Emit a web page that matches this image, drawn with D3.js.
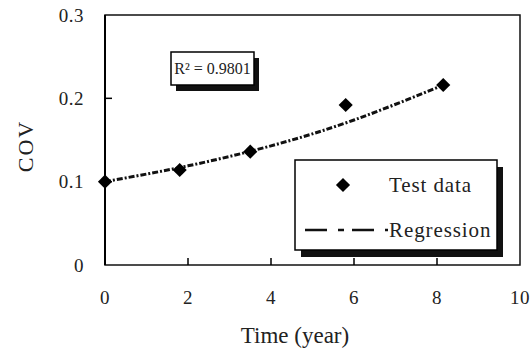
<html>
<head>
<script src="https://cdn.jsdelivr.net/npm/d3@7"></script>
</head>
<body style="margin:0">
<script>
// test data
const testTime = [0, 1.8, 3.5, 5.8, 8.15];
const testCov = [0.1, 0.114, 0.136, 0.192, 0.216];

// regression curve
const regTime = [0, 2, 4, 6, 8.15];
const regCov = [0.1, 0.119, 0.143, 0.174, 0.216];

const xTicks = [0, 2, 4, 6, 8, 10];
const yTicks = [0, 0.1, 0.2, 0.3];
const r2Label = 'R\u00b2 = 0.9801';
const legendLabels = ['Test data', 'Regression'];

const W = 530, H = 363;
const MARGIN = { top: 15, right: 10, bottom: 98, left: 105 };
const FONT = '"Liberation Serif"';

const svg = d3.select('body').append('svg')
  .attr('width', W)
  .attr('height', H);

const x = d3.scaleLinear().domain([0, 10]).range([MARGIN.left, W - MARGIN.right]);
const y = d3.scaleLinear().domain([0, 0.3]).range([H - MARGIN.bottom, MARGIN.top]);

const x0 = x(0), x1 = x(10), y0 = y(0), y1 = y(0.3);

// frame
svg.append('rect')
  .attr('x', x0).attr('y', y1)
  .attr('width', x1 - x0).attr('height', y0 - y1)
  .attr('fill', 'none').attr('stroke', '#111').attr('stroke-width', 1.5);
svg.append('line')
  .attr('x1', x0).attr('x2', x0).attr('y1', y1).attr('y2', y0)
  .attr('stroke', '#000').attr('stroke-width', 2);

// inner ticks
svg.selectAll('.xt').data(xTicks.slice(1, -1)).enter().append('line')
  .attr('x1', d => x(d)).attr('x2', d => x(d))
  .attr('y1', y0).attr('y2', y0 - 7)
  .attr('stroke', '#000').attr('stroke-width', 1.5);
svg.selectAll('.yt').data(yTicks.slice(1, -1)).enter().append('line')
  .attr('x1', x0).attr('x2', x0 + 7)
  .attr('y1', d => y(d)).attr('y2', d => y(d))
  .attr('stroke', '#000').attr('stroke-width', 1.5);

// tick labels
svg.selectAll('.xl').data(xTicks).enter().append('text')
  .attr('x', d => x(d)).attr('y', y0 + 39)
  .attr('text-anchor', 'middle')
  .attr('font-family', FONT).attr('font-size', 19).attr('letter-spacing', 0.5).attr('fill', '#222')
  .text(d => d);
svg.selectAll('.yl').data(yTicks).enter().append('text')
  .attr('x', x0 - 21).attr('y', d => y(d)).attr('dy', '0.35em')
  .attr('text-anchor', 'end')
  .attr('font-family', FONT).attr('font-size', 19).attr('letter-spacing', 0.5).attr('fill', '#222')
  .text(d => d === 0 ? '0' : d3.format('.1f')(d));

// axis titles
svg.append('text')
  .attr('x', 295).attr('y', 343)
  .attr('text-anchor', 'middle')
  .attr('font-family', FONT).attr('font-size', 23).attr('fill', '#222')
  .text('Time (year)');
svg.append('text')
  .attr('transform', 'translate(33,146) rotate(-90)')
  .attr('text-anchor', 'middle')
  .attr('font-family', FONT).attr('font-size', 22).attr('letter-spacing', 2).attr('fill', '#222')
  .text('COV');

// regression curve
const regPts = regTime.map((t, i) => [t, regCov[i]]);
const line = d3.line().x(d => x(d[0])).y(d => y(d[1])).curve(d3.curveNatural);
svg.append('path')
  .attr('d', line(regPts))
  .attr('fill', 'none').attr('stroke', '#111')
  .attr('stroke-width', 3).attr('stroke-dasharray', '6,2,2,2');

// test data markers: squares turned 45°
const marker = d3.symbol().type(d3.symbolSquare).size(100);
svg.selectAll('.pt').data(testTime).enter().append('path')
  .attr('d', marker)
  .attr('transform', (d, i) => `translate(${x(d)},${y(testCov[i])}) rotate(45)`)
  .attr('fill', '#000');

// R² box
const r2 = { x: 171, y: 52, w: 83, h: 33 };
svg.append('rect')
  .attr('x', r2.x + 5).attr('y', r2.y + 6).attr('width', r2.w).attr('height', r2.h)
  .attr('fill', '#111');
svg.append('rect')
  .attr('x', r2.x).attr('y', r2.y).attr('width', r2.w).attr('height', r2.h)
  .attr('fill', '#fff').attr('stroke', '#000').attr('stroke-width', 1.5);
svg.append('text')
  .attr('x', r2.x + r2.w / 2).attr('y', r2.y + r2.h / 2).attr('dy', '0.35em')
  .attr('text-anchor', 'middle')
  .attr('font-family', FONT).attr('font-size', 16).attr('fill', '#222')
  .text(r2Label);

// legend
const lg = { x: 295, y: 160, w: 202, h: 90 };
svg.append('rect')
  .attr('x', lg.x + 6).attr('y', lg.y + 7).attr('width', lg.w).attr('height', lg.h)
  .attr('fill', '#111');
svg.append('rect')
  .attr('x', lg.x).attr('y', lg.y).attr('width', lg.w).attr('height', lg.h)
  .attr('fill', '#fff').attr('stroke', '#000').attr('stroke-width', 1.5);
svg.append('path')
  .attr('d', marker)
  .attr('transform', `translate(${lg.x + 48},${lg.y + 25}) rotate(45)`)
  .attr('fill', '#000');
svg.append('line')
  .attr('x1', lg.x + 10).attr('x2', lg.x + 93)
  .attr('y1', lg.y + 70).attr('y2', lg.y + 70)
  .attr('stroke', '#111').attr('stroke-width', 2.5).attr('stroke-dasharray', '22,11,6,8');
svg.selectAll('.lt').data(legendLabels).enter().append('text')
  .attr('x', lg.x + 94)
  .attr('y', (d, i) => lg.y + (i === 0 ? 25 : 70)).attr('dy', '0.35em')
  .attr('font-family', FONT).attr('font-size', 21).attr('letter-spacing', 0.9).attr('fill', '#222')
  .text(d => d);
</script>
</body>
</html>
